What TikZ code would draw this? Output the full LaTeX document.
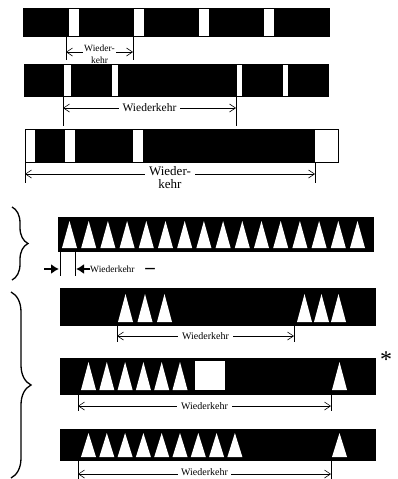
\documentclass[tikz,border=0pt]{standalone}
\usepackage{fontspec}
\setmainfont{Liberation Serif}
\usetikzlibrary{arrows.meta,decorations.pathreplacing}

\begin{document}
\begin{tikzpicture}[x=1pt,y=-1pt,
    lbl/.style={fill=white, inner sep=1.5pt, align=center, font=\fontsize{10}{10}\selectfont},
    dim/.style={{Straight Barb[length=6pt,width=8pt]}-{Straight Barb[length=6pt,width=8pt]}, line width=0.6pt},
    ext/.style={line width=0.7pt},
    gap/.style={fill=white},
    push/.style={-{Latex[length=8pt,width=10pt]}, line width=2.2pt},
    curly/.style={decorate, decoration={brace, amplitude=#1}, line width=1.3pt}]
    \useasboundingbox (0,0) rectangle (398,479);

    % Row 1
    \fill (23,8) rectangle (330,37);
    \foreach \x in {69,134,199,264}
        \fill[gap] (\x,9) rectangle ++(10,27);
    \draw[ext] (66,37) -- (66,60);
    \draw[ext] (133,37) -- (133,60);
    \coordinate (r1a) at (66,52);
    \coordinate (r1b) at (133,52);
    \draw[dim] (r1a) -- node[lbl, yshift=-2pt, font=\fontsize{9.5}{11.5}\selectfont] (r1t) {Wieder-\\kehr} (r1b);

    % Row 2
    \fill (24,64) rectangle (329,97);
    \fill[gap] (64,65) rectangle (71,96);
    \fill[gap] (112,65) rectangle (118,96);
    \fill[gap] (237,65) rectangle (242,96);
    \fill[gap] (283,65) rectangle (288,96);
    \draw[ext] (63,97) -- (63,126);
    \draw[ext] (236,97) -- (236,126);
    \coordinate (r2a) at (63,108);
    \coordinate (r2b) at (236,108);
    \draw[dim] (r2a) -- node[lbl, inner sep=4pt, font=\fontsize{11.5}{11.5}\selectfont] (r2t) {Wiederkehr} (r2b);

    % Row 3
    \filldraw[fill=white, line width=0.6pt] (25,129) rectangle (338,162);
    \fill (35,129) rectangle (65,162);
    \fill (75,129) rectangle (133,162);
    \fill (143,129) rectangle (315,162);
    \draw[ext] (25,162) -- (25,183);
    \draw[ext] (315,162) -- (315,183);
    \coordinate (r3a) at (25,174);
    \coordinate (r3b) at (315,174);
    \draw[dim] (r3a) -- node[lbl, inner sep=4pt, yshift=-4pt, font=\fontsize{13}{13}\selectfont] (r3t) {Wieder-\\kehr} (r3b);

    % Brace for row 4
    \draw[curly=16pt] (12,207) -- (12,280);

    % Row 4
    \fill (58,217) rectangle (374,252);
    \foreach \i in {0,...,15}
        \fill[gap] ({62+19.2*\i},248) -- ++(7.5,-27) -- ++(7.5,27) -- cycle;
    \draw[ext] (60,252) -- (60,276);
    \draw[ext] (75,252) -- (75,276);
    \coordinate (r4a) at (44,269);
    \coordinate (r4b) at (59,269);
    \coordinate (r4c) at (90,269);
    \coordinate (r4d) at (76,269);
    \draw[push] (r4a) -- (r4b);
    \draw[push] (r4c) -- (r4d);
    \node[anchor=west, inner sep=0pt, font=\fontsize{9.5}{9.5}\selectfont] (r4t) at (r4c) {Wiederkehr};
    \node[font=\fontsize{19}{19}\selectfont\bfseries] (r4m) at (150,271) {–};

    % Brace for rows 5 to 7
    \draw[curly=20pt] (11,292) -- (11,478);

    % Row 5
    \fill (60,288) rectangle (376,326);
    \foreach \x in {118,137.5,157,297,314,331}
        \fill[gap] (\x,322) -- ++(7.5,-28) -- ++(7.5,28) -- cycle;
    \draw[ext] (117,326) -- (117,342);
    \draw[ext] (294,326) -- (294,342);
    \coordinate (r5a) at (117,336);
    \coordinate (r5b) at (294,336);
    \draw[dim] (r5a) -- node[lbl, inner sep=4pt] (r5t) {Wiederkehr} (r5b);

    % Row 6
    \fill (60,358) rectangle (376,395);
    \foreach \i in {0,...,5}
        \fill[gap] ({81+18.3*\i},390) -- ++(7.5,-28) -- ++(7.5,28) -- cycle;
    \fill[gap] (195,361) rectangle (225,390);
    \fill[gap] (332,390) -- ++(7.5,-28) -- ++(7.5,28) -- cycle;
    \node[font=\fontsize{24}{24}\selectfont] (r6s) at (386,360) {*};
    \draw[ext] (78,395) -- (78,411);
    \draw[ext] (331,395) -- (331,411);
    \coordinate (r6a) at (78,406);
    \coordinate (r6b) at (331,406);
    \draw[dim] (r6a) -- node[lbl, inner sep=4pt] (r6t) {Wiederkehr} (r6b);

    % Row 7
    \fill (60,429) rectangle (376,461);
    \foreach \i in {0,...,8}
        \fill[gap] ({81+18.3*\i},457) -- ++(7.5,-24) -- ++(7.5,24) -- cycle;
    \fill[gap] (332,457) -- ++(7.5,-24) -- ++(7.5,24) -- cycle;
    \draw[ext] (78,461) -- (78,479);
    \draw[ext] (331,461) -- (331,479);
    \coordinate (r7a) at (78,474);
    \coordinate (r7b) at (331,474);
    \draw[dim] (r7a) -- node[lbl, inner sep=3pt, yshift=1.5pt] (r7t) {Wiederkehr} (r7b);
\end{tikzpicture}
\end{document}
